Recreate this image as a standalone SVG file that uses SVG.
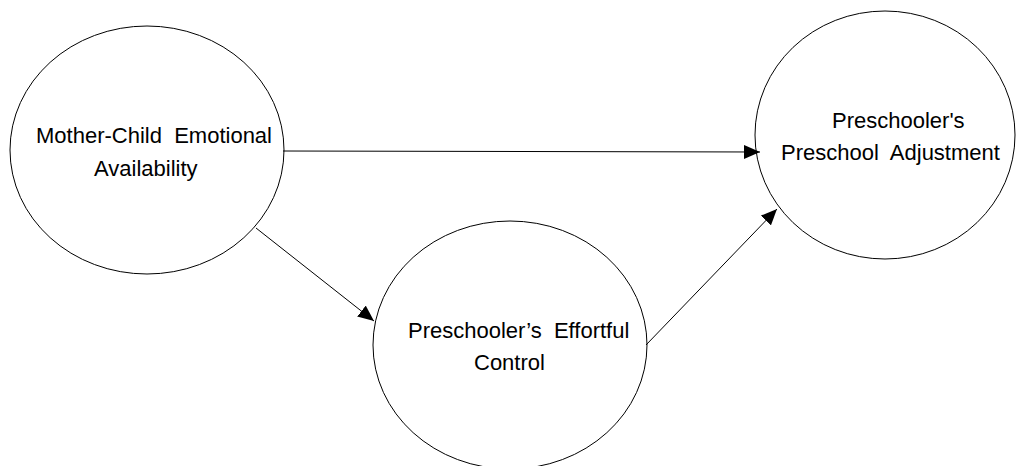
<svg xmlns="http://www.w3.org/2000/svg" width="1017" height="466" viewBox="0 0 1017 466">
<style>
.node{fill:#fff;stroke:#000;stroke-width:1}
.lbl{font-family:"Liberation Sans",Arial,sans-serif;font-size:22px;fill:#000;white-space:pre}
.edge{stroke:#000;stroke-width:1;fill:none;marker-end:url(#arr)}
</style>
<defs>
<marker id="arr" markerUnits="userSpaceOnUse" markerWidth="16" markerHeight="14" refX="16" refY="7" orient="auto">
<path d="M0,0 L16,7 L0,14 z" fill="#000"/>
</marker>
</defs>
<rect width="1017" height="466" fill="#fff"/>
<g id="node-mother">
<ellipse class="node" cx="147" cy="150" rx="137" ry="124"/>
<text class="lbl" xml:space="preserve" x="36" y="143">Mother-Child  Emotional</text>
<text class="lbl" x="94" y="176">Availability</text>
</g>
<g id="node-adjustment">
<ellipse class="node" cx="885" cy="135" rx="130" ry="124"/>
<text class="lbl" x="832" y="128">Preschooler's</text>
<text class="lbl" xml:space="preserve" x="781" y="160">Preschool  Adjustment</text>
</g>
<g id="node-effortful">
<ellipse class="node" cx="510" cy="345" rx="137" ry="124"/>
<text class="lbl" xml:space="preserve" x="408" y="338">Preschooler’s  Effortful</text>
<text class="lbl" x="474" y="370">Control</text>
</g>
<g id="connectors">
<line class="edge" x1="283" y1="151" x2="760" y2="152"/>
<line class="edge" x1="256" y1="228" x2="374" y2="321"/>
<line class="edge" x1="646" y1="345" x2="777" y2="209"/>
</g>
</svg>
